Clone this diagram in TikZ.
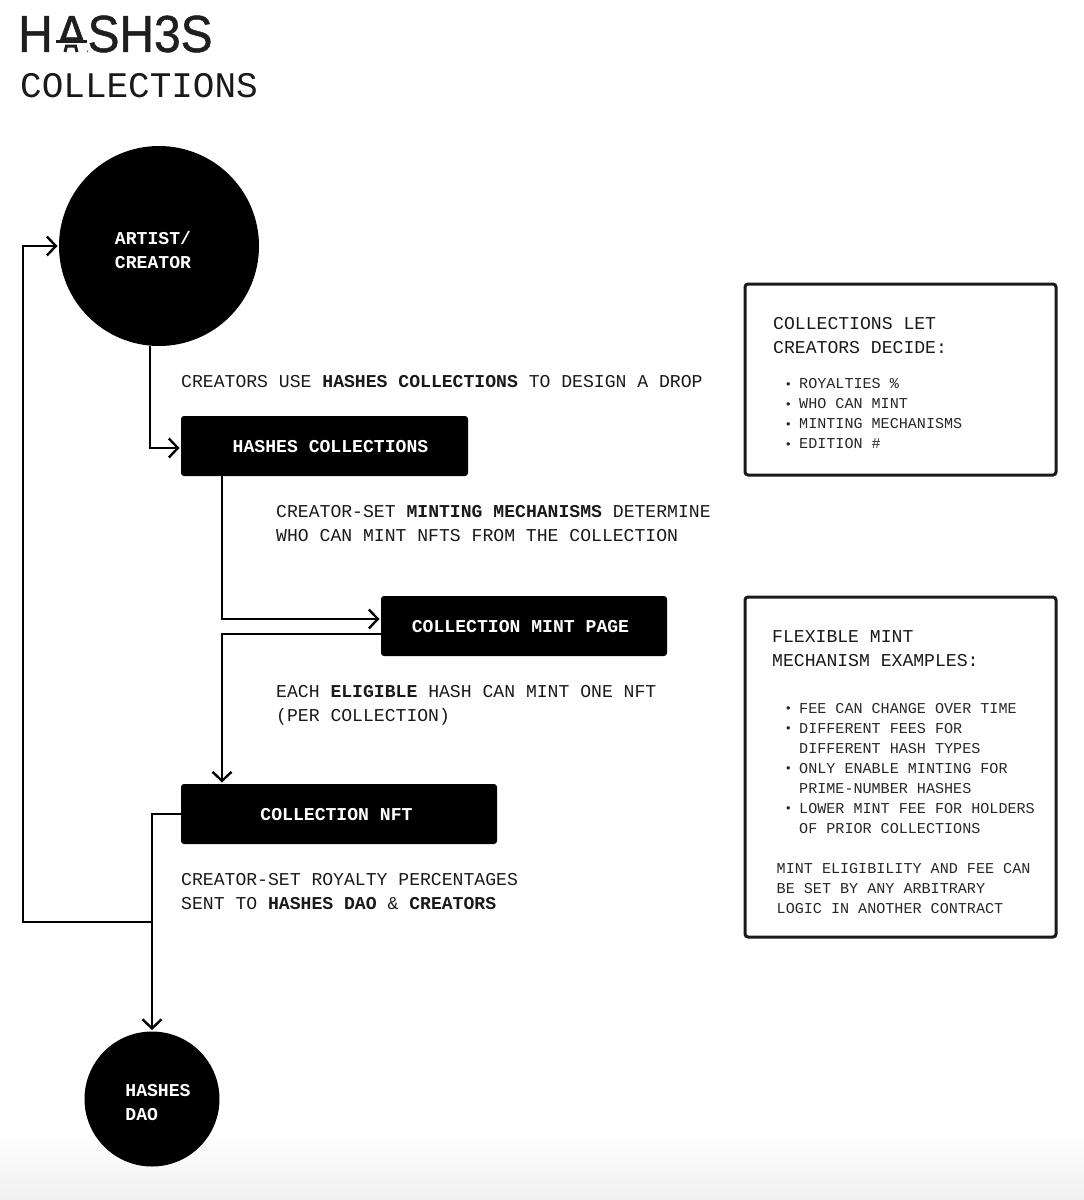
\documentclass[tikz,border=0pt]{standalone}
\usepackage{fontspec}
\setmainfont{Liberation Mono}
\newfontfamily\logofont[FakeStretch=0.92, FakeBold=1]{Liberation Sans}
\usetikzlibrary{arrows.meta}
\usetikzlibrary{positioning}

\newcommand{\bodyfont}{\fontsize{18.1}{24}\selectfont}
\newcommand{\smallfont}{\fontsize{15.1}{20}\selectfont}
\newcommand{\bul}{\makebox[15pt][l]{\hspace{0.4pt}\raisebox{0.6pt}{\fontsize{12.5}{12}\selectfont •}}}
\newcommand{\ind}{\hspace*{15pt}}

\tikzset{
    flow/.style={draw=black, line width=2.4pt, shorten >=1.5pt, -{Straight Barb[length=9pt, width=19pt, line width=2.4pt]}},
    blackdot/.style={circle, fill=black, inner sep=0pt, outer sep=0pt},
    blackbox/.style={rectangle, rounded corners=3pt, fill=black, text=white, inner sep=0pt, outer sep=0pt, text height=12pt, text depth=0pt, font=\bodyfont\bfseries},
    infobox/.style={rectangle, rounded corners=3pt, draw=black!90, line width=3pt, inner sep=0pt, outer sep=0pt},
    dottext/.style={text=white, inner sep=0pt, align=left, font=\bodyfont\bfseries},
    bodytext/.style={anchor=west, inner sep=0pt, align=left, text=black!90, font=\bodyfont},
    smalltext/.style={anchor=west, inner sep=0pt, align=left, text=black!85, font=\smallfont},
    logomark/.style={draw=black!88, line width=3pt},
}

\begin{document}
\begin{tikzpicture}[x=1pt, y=-1pt]
    \useasboundingbox (0, 0) rectangle (1084, 1200);
    \shade [top color=white, bottom color=black!6] (0, 1130) rectangle (1084, 1200);

    \node (logo) [anchor=west, inner sep=0pt, text=black!88, font=\fontsize{52}{52}\selectfont\logofont] at (18, 34) {H\kern3pt ASH3S};
    \node (title) [anchor=west, inner sep=0pt, text=black!90, font=\fontsize{36}{36}\selectfont] at (20, 86) {COLLECTIONS};

    % feet of the A in the logo
    \fill [white] (54, 43) rectangle (87, 54);
    \draw [logomark] (56, 41.5) -- (87, 41.5);
    \draw [logomark] (65, 52) -- (66.5, 46) -- (75.5, 46) -- (77, 52);

    \node (artist) [blackdot, minimum size=200] at (159, 246) {};
    \node (artisttext) [dottext] at (153, 249.7) {ARTIST/\\CREATOR};
    \node (dao) [blackdot, minimum size=135] at (152, 1099) {};
    \node (daotext) [dottext] at (158, 1103) {HASHES\\DAO};

    \node (collections) [blackbox, minimum width=287, minimum height=60] at (324.5, 446) {\hspace{12pt}HASHES COLLECTIONS};
    \node (mintpage) [blackbox, minimum width=286, minimum height=60] at (524, 626) {\hspace{-7pt}COLLECTION MINT PAGE};
    \node (nft) [blackbox, minimum width=316, minimum height=60] at (339, 814) {\hspace{-5pt}COLLECTION NFT};

    \node (designtext) [bodytext] at (181, 382) {CREATORS USE \textbf{HASHES COLLECTIONS} TO DESIGN A DROP};
    \node (mechtext) [bodytext] at (276, 523.5) {CREATOR-SET \textbf{MINTING MECHANISMS} DETERMINE\\WHO CAN MINT NFTS FROM THE COLLECTION};
    \node (eligibletext) [bodytext] at (276, 705) {EACH \textbf{ELIGIBLE} HASH CAN MINT ONE NFT\\(PER COLLECTION)};
    \node (royaltytext) [bodytext] at (181, 892) {CREATOR-SET ROYALTY PERCENTAGES\\SENT TO \textbf{HASHES DAO} \& \textbf{CREATORS}};

    \draw [flow] (artist.-95) |- ([yshift=-2]collections.west);
    \draw [flow] ([xshift=41]collections.south west) |- ([yshift=7]mintpage.west);
    \draw [flow] ([yshift=-8]mintpage.west) -| ([xshift=41]nft.north west);
    \draw [flow] (nft.west) -| (dao.north);

    \coordinate (fork) at (152, 922);
    \draw [flow] (fork) -- ++(-129, 0) |- (artist.west);

    \node (decidebox) [infobox, minimum width=311, minimum height=191] at (900.5, 379.5) {};
    \node (decidehead) [bodytext] at (773, 335.5) {COLLECTIONS LET\\CREATORS DECIDE:};
    \node (decidelist) [smalltext] at (784, 414) {\bul ROYALTIES \%\\\bul WHO CAN MINT\\\bul MINTING MECHANISMS\\\bul EDITION \#};

    \node (flexbox) [infobox, minimum width=311, minimum height=340] at (900.5, 767) {};
    \node (flexhead) [bodytext] at (772, 649) {FLEXIBLE MINT\\MECHANISM EXAMPLES:};
    \node (flexlist) [smalltext] at (784, 768.5) {\bul FEE CAN CHANGE OVER TIME\\\bul DIFFERENT FEES FOR\\\ind DIFFERENT HASH TYPES\\\bul ONLY ENABLE MINTING FOR\\\ind PRIME-NUMBER HASHES\\\bul LOWER MINT FEE FOR HOLDERS\\\ind OF PRIOR COLLECTIONS};
    \node (flexnote) [smalltext] at (776.5, 888.5) {MINT ELIGIBILITY AND FEE CAN\\BE SET BY ANY ARBITRARY\\LOGIC IN ANOTHER CONTRACT};
\end{tikzpicture}
\end{document}
